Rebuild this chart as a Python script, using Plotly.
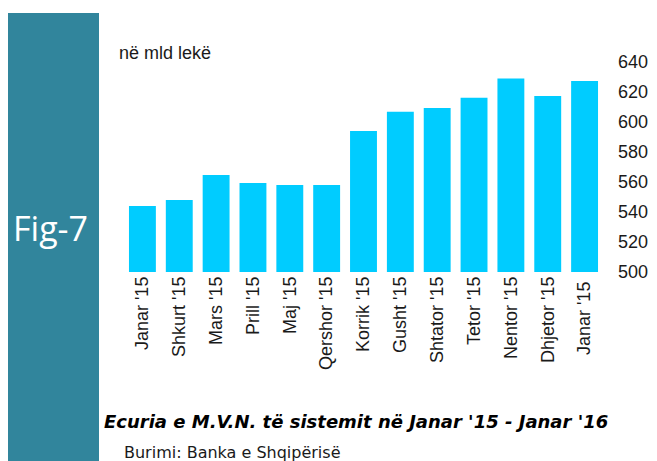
import plotly.graph_objects as go

categories = ["Janar '15", "Shkurt '15", "Mars '15", "Prill '15", "Maj '15", "Qershor '15",
              "Korrik '15", "Gusht '15", "Shtator '15", "Tetor '15", "Nentor '15",
              "Dhjetor '15", "Janar '15 "]
values = [544, 548, 564.7, 559.3, 558, 558, 594, 606.9, 609.3, 616.2, 629, 617.3, 627.3]
y_ticks = [500, 520, 540, 560, 580, 600, 620, 640]

OFF = 8  # page body margin
W, H = 657 - OFF, 461 - OFF
L, R, T, B = 124 - OFF, 603 - OFF, 62 - OFF, 272 - OFF  # plot area pixel bounds
pw, ph = R - L, B - T

def px(x):
    return (x - OFF - L) / pw

def py(y):
    return (B - (y - OFF)) / ph

fig = go.Figure(go.Bar(
    x=categories, y=values, marker=dict(color="#00CCFF", line=dict(width=0)),
    width=0.73,
))

fig.update_layout(
    width=W, height=H,
    margin=dict(l=L, r=W - R, t=T, b=H - B),
    paper_bgcolor="white", plot_bgcolor="white",
    showlegend=False,
    font=dict(family="Liberation Sans, Arial, sans-serif", color="#1a1a1a"),
    xaxis=dict(
        tickangle=-90, tickfont=dict(size=18, color="#1a1a1a"),
        showgrid=False, showline=False, zeroline=False, ticks="",
        automargin=False, range=[-0.5, 12.5],
    ),
    yaxis=dict(
        side="right", range=[500, 640], tickvals=y_ticks,
        tickfont=dict(size=18, color="#1a1a1a"),
        showgrid=False, showline=False, zeroline=False, ticks="",
        ticklabelstandoff=14, automargin=False,
    ),
    shapes=[dict(type="rect", xref="paper", yref="paper",
                 x0=px(4), x1=px(99), y0=py(470), y1=py(13),
                 fillcolor="#31859C", line=dict(width=0), layer="below")],
    annotations=[
        dict(text="Fig-7", x=px(50), y=py(228), xref="paper", yref="paper",
             showarrow=False, font=dict(family="Open Sans", size=34, color="white"),
             xanchor="center", yanchor="middle"),
        dict(text="në mld lekë", x=px(117), y=py(53), xref="paper", yref="paper",
             showarrow=False, font=dict(size=18, color="#1a1a1a"),
             xanchor="left", yanchor="middle"),
        dict(text="<b><i>Ecuria e M.V.N. të sistemit në Janar '15 - Janar '16</i></b>",
             x=px(102), y=py(421), xref="paper", yref="paper",
             showarrow=False, font=dict(family="DejaVu Sans", size=18, color="black"),
             xanchor="left", yanchor="middle"),
        dict(text="Burimi: Banka e Shqipërisë", x=px(122), y=py(452), xref="paper", yref="paper",
             showarrow=False, font=dict(family="DejaVu Sans", size=16, color="#1a1a1a"),
             xanchor="left", yanchor="middle"),
    ],
)

fig.write_html("out.html")
